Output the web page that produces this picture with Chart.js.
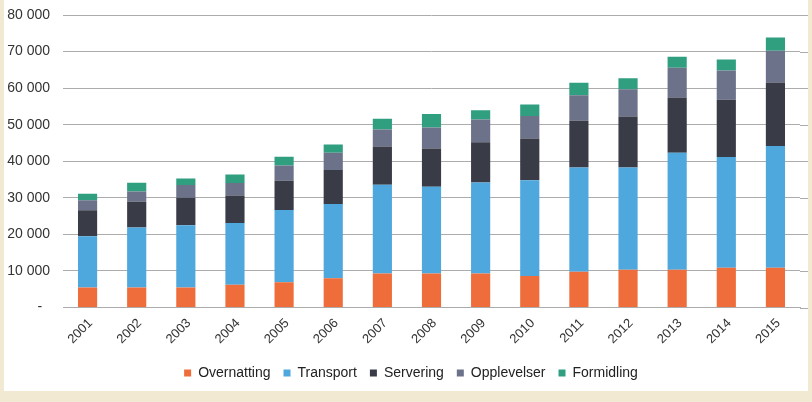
<!DOCTYPE html>
<html>
<head>
<meta charset="utf-8">
<script src="https://cdn.jsdelivr.net/npm/chart.js@4"></script>
<style>
html,body{margin:0;padding:0;background:#f2e9d3;}
#wrap{position:absolute;left:0;top:0;width:812px;height:402px;}
</style>
</head>
<body>
<div id="wrap"><canvas id="c" width="812" height="402"></canvas></div>
<script>
const years = ['2001','2002','2003','2004','2005','2006','2007','2008','2009','2010','2011','2012','2013','2014','2015'];
const overnatting = [5500,5500,5500,6200,6900,8000,9300,9300,9300,8600,9750,10300,10300,10850,10850];
const transport   = [14000,16400,17000,16900,19750,20300,24300,23700,24900,26200,28550,28000,32000,30300,33300];
const servering   = [7100,7000,7550,7500,8000,9300,10450,10500,11000,11450,12750,13950,15150,15700,17400];
const opplevelser = [2700,2850,3450,3450,4200,4700,4600,5750,6200,6100,7000,7450,8100,8000,8650];
const formidling  = [1800,2350,1750,2350,2350,2300,3000,3650,2550,3200,3450,3000,3000,3000,3650];
const seriesNames = ['Overnatting','Transport','Servering','Opplevelser','Formidling'];
const yTickLabels = ['-  ','10 000','20 000','30 000','40 000','50 000','60 000','70 000','80 000'];

const colors = ['#ee6d3a','#4ea8de','#393b47','#6b7289','#2f9f80'];
const seriesData = [overnatting, transport, servering, opplevelser, formidling];
const gridColor = '#acacac';

const panel = {
  id:'panel',
  beforeDraw(chart){
    const ctx = chart.ctx;
    ctx.save();
    ctx.fillStyle = '#f2e9d3';
    ctx.fillRect(0,0,chart.width,chart.height);
    ctx.fillStyle = '#ffffff';
    ctx.fillRect(4,0,804,391);
    ctx.restore();
  },
  afterLayout(chart){
    const lg = chart.legend;
    if(lg){ lg.left += 11; lg.right += 11; }
  },
  beforeDatasetsDraw(chart){
    // extend gridlines slightly past the category area, as in the original
    const ctx = chart.ctx, ys = chart.scales.y, a = chart.chartArea;
    ctx.save();
    ctx.strokeStyle = gridColor; ctx.lineWidth = 1;
    ys.ticks.forEach(t=>{
      const y = Math.round(ys.getPixelForValue(t.value)) + 0.5;
      ctx.beginPath(); ctx.moveTo(a.right, y); ctx.lineTo(808, y); ctx.stroke();
    });
    ctx.restore();
  }
};

const font = "'Liberation Sans', Arial, sans-serif";

new Chart(document.getElementById('c'), {
  type:'bar',
  data:{
    labels: years,
    datasets: seriesNames.map((n,i)=>({
      label:n,
      data:seriesData[i],
      backgroundColor:colors[i],
      borderWidth:0,
      barPercentage:0.39,
      categoryPercentage:1.0
    }))
  },
  options:{
    responsive:false,
    animation:false,
    devicePixelRatio:1,
    layout:{padding:{left:0,right:12,top:15,bottom:12}},
    plugins:{
      legend:{
        position:'bottom',
        labels:{
          boxWidth:7, boxHeight:7, padding:13,
          color:'#222',
          font:{family:font,size:14}
        }
      },
      tooltip:{enabled:false}
    },
    scales:{
      x:{
        stacked:true,
        grid:{display:false, drawTicks:false},
        border:{display:true,color:gridColor,width:1},
        ticks:{
          color:'#333',
          font:{family:font,size:13},
          maxRotation:45, minRotation:45,
          padding:8,
          labelOffset:3
        },
        afterFit(s){ s.height = 45.5; }
      },
      y:{
        stacked:true,
        min:0,max:80000,
        grid:{color:gridColor, drawTicks:true, tickLength:11, tickColor:'rgba(0,0,0,0)', lineWidth:1},
        border:{display:false},
        ticks:{
          stepSize:10000,
          color:'#333',
          font:{family:font,size:14},
          padding:2,
          callback:(v,i)=>yTickLabels[i]
        },
        afterFit(s){ s.width = 63; }
      }
    }
  },
  plugins:[panel]
});
</script>
</body>
</html>
